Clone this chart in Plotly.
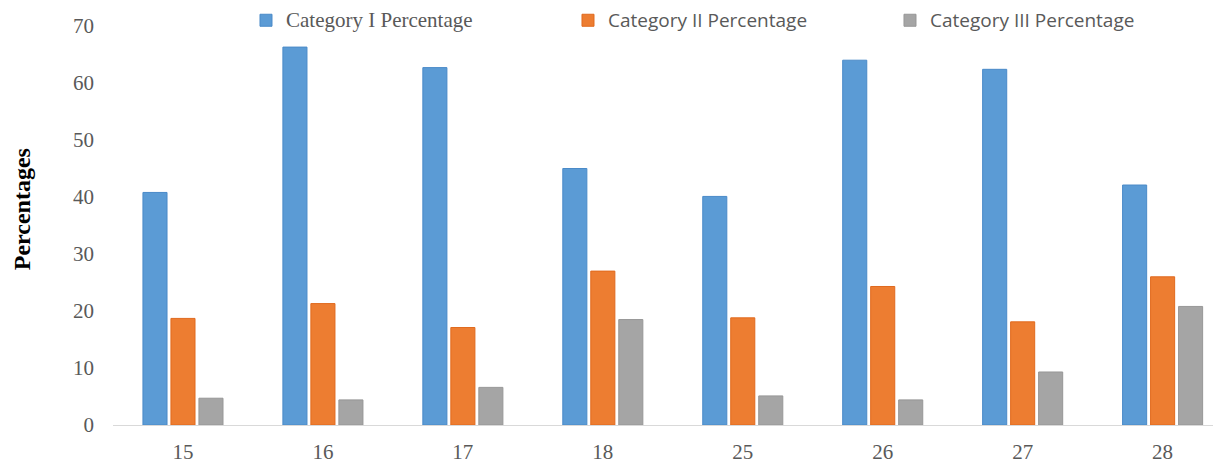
import plotly.graph_objects as go

categories = ["15", "16", "17", "18", "25", "26", "27", "28"]
cat1 = [40.8, 66.3, 62.7, 45.0, 40.1, 64.0, 62.4, 42.1]
cat2 = [18.7, 21.3, 17.1, 27.0, 18.8, 24.3, 18.1, 26.0]
cat3 = [4.7, 4.4, 6.6, 18.5, 5.1, 4.4, 9.3, 20.8]
series_names = ["Category I Percentage", "Category II Percentage", "Category III Percentage"]
legend_fonts = ["Liberation Serif", "Open Sans", "Open Sans"]
legend_sizes = [21, 19, 19]
colors = ["#5B9BD5", "#ED7D31", "#A5A5A5"]
borders = ["#4A8AC8", "#E06A1E", "#979797"]
y_ticks = [0, 10, 20, 30, 40, 50, 60, 70]

fig = go.Figure()
for name, fam, sz, vals, c, b in zip(series_names, legend_fonts, legend_sizes,
                                     [cat1, cat2, cat3], colors, borders):
    label = f'<span style="font-family:{fam};font-size:{sz}px">{name}</span>'
    fig.add_trace(go.Bar(x=categories, y=vals, name=label,
                         marker=dict(color=c, line=dict(color=b, width=1))))

fig.update_layout(
    width=1213, height=464,
    margin=dict(l=113, r=0, t=26, b=37),
    paper_bgcolor="white", plot_bgcolor="white",
    barmode="group", bargap=0.4, bargroupgap=0.14,
    showlegend=True,
    legend=dict(orientation="h", x=0.1209, xanchor="left", y=1.06, yanchor="top",
                entrywidth=277, entrywidthmode="pixels",
                font=dict(family="Open Sans", size=18, color="#595959"),
                itemwidth=30, bgcolor="rgba(0,0,0,0)", tracegroupgap=0),
    xaxis=dict(type="category", range=[-0.5, 7.36], showline=True, linecolor="#D9D9D9",
               linewidth=1, ticks="", showgrid=False, zeroline=False, ticklabelstandoff=8,
               tickfont=dict(family="Liberation Serif", size=21, color="#595959")),
    yaxis=dict(range=[0, 70], tickvals=y_ticks, showgrid=False, zeroline=False,
               showline=False, ticks="", ticklabelstandoff=18,
               tickfont=dict(family="Liberation Serif", size=21, color="#595959")),
    annotations=[dict(text="<b>Percentages</b>", xref="paper", yref="paper",
                      x=-0.083, y=0.54, xanchor="center", yanchor="middle", textangle=-90,
                      showarrow=False,
                      font=dict(family="Liberation Serif", size=24, color="#000000"))],
)

fig.write_html("out.html")
